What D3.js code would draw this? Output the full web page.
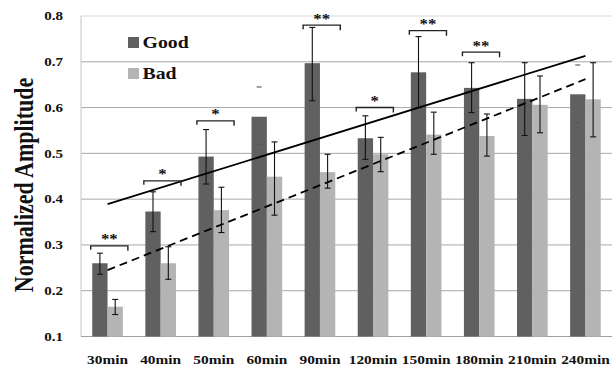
<!DOCTYPE html>
<html><head><meta charset="utf-8">
<script src="https://cdn.jsdelivr.net/npm/d3@7"></script>
<style>
html,body{margin:0;padding:0;background:#fff;}
svg{display:block;}
text{font-family:"Liberation Serif","Times New Roman",serif;font-weight:bold;fill:#111;}
</style></head>
<body>
<svg id="chart" width="614" height="369"></svg>
<script>
const categories = ["30min","40min","50min","60min","90min","120min","150min","180min","210min","240min"];
const goodValues = [0.26, 0.373, 0.493, 0.58, 0.697, 0.533, 0.677, 0.643, 0.619, 0.629];
const goodLow    = [0.236, 0.329, 0.433, 0.52, 0.615, 0.487, 0.600, 0.589, 0.539, 0.567];
const goodHigh   = [0.282, 0.416, 0.552, 0.645, 0.775, 0.582, 0.755, 0.698, 0.698, 0.693];
const goodCapsOnly = [false,false,false,true,false,false,false,false,false,true];
const badValues  = [0.165, 0.26, 0.376, 0.449, 0.459, 0.498, 0.541, 0.538, 0.606, 0.618];
const badLow     = [0.148, 0.225, 0.327, 0.365, 0.424, 0.46, 0.498, 0.494, 0.545, 0.536];
const badHigh    = [0.181, 0.296, 0.426, 0.525, 0.498, 0.535, 0.59, 0.586, 0.669, 0.698];
const yTicks = [0.1,0.2,0.3,0.4,0.5,0.6,0.7,0.8];
const seriesNames = ["Good","Bad"];
// significance brackets: category, bracket level, label
const sigCats   = ["30min","40min","50min","90min","120min","150min","180min"];
const sigLevels = [0.298, 0.440, 0.571, 0.780, 0.600, 0.768, 0.721];
const sigLabels = ["**","*","*","**","*","**","**"];
// linear trend lines (values at first and last category)
const trendGood = [0.389, 0.713];
const trendBad  = [0.245, 0.662];

const colors = {Good:"#606060", Bad:"#b4b4b4"};
const svg = d3.select("#chart");
const L = 81, R = 612, T = 16, B = 336.5;
const SX = 1.2; // horizontal stretch of the original picture

const x = d3.scaleBand().domain(categories).range([L,R]).paddingInner(0.423).paddingOuter(0.2115);
const xs = d3.scaleBand().domain(seriesNames).range([0, x.bandwidth()]);
const y = d3.scaleLinear().domain([0.1,0.8]).range([B,T]);
const cx = c => x(c) + x.bandwidth()/2;

// gridlines
svg.append("g").selectAll("line").data(yTicks.filter(t => t>0.1 && t<0.8)).join("line")
  .attr("x1",L).attr("x2",R).attr("y1",d=>y(d)).attr("y2",d=>y(d))
  .attr("stroke","#a8a8a8").attr("stroke-width",1);
svg.append("line").attr("x1",L).attr("x2",R).attr("y1",y(0.8)).attr("y2",y(0.8)).attr("stroke","#d6d6d6").attr("stroke-width",1.2);
svg.append("line").attr("x1",L).attr("x2",L).attr("y1",y(0.8)).attr("y2",y(0.1)).attr("stroke","#cfcfcf").attr("stroke-width",1.2);
svg.append("line").attr("x1",L).attr("x2",R).attr("y1",y(0.1)).attr("y2",y(0.1)).attr("stroke","#a0a0a0").attr("stroke-width",1.2);

// bars
const series = [
  {name:"Good", v:goodValues, lo:goodLow, hi:goodHigh, capsOnly:goodCapsOnly},
  {name:"Bad",  v:badValues,  lo:badLow,  hi:badHigh,  capsOnly:categories.map(()=>false)}
];
series.forEach(s => {
  const g = svg.append("g");
  g.selectAll("rect").data(categories).join("rect")
    .attr("x", (c)=>x(c)+xs(s.name)).attr("width", xs.bandwidth())
    .attr("y", (c,i)=>y(s.v[i])).attr("height",(c,i)=>y(0.1)-y(s.v[i]))
    .attr("fill", colors[s.name]);
});

// error bars
series.forEach(s => {
  const g = svg.append("g");
  categories.forEach((c,i) => {
    const ex = x(c)+xs(s.name)+xs.bandwidth()/2;
    const col = s.capsOnly[i] ? "#555" : "#111";
    if(!s.capsOnly[i]) g.append("line").attr("x1",ex).attr("x2",ex).attr("y1",y(s.hi[i])).attr("y2",y(s.lo[i])).attr("stroke","#111").attr("stroke-width",1.1);
    const cw = s.capsOnly[i] ? 2.5 : 3;
    [s.hi[i], s.lo[i]].forEach(v => g.append("line").attr("x1",ex-cw).attr("x2",ex+cw).attr("y1",y(v)).attr("y2",y(v)).attr("stroke",col).attr("stroke-width",1.1));
  });
});

// trend lines
const c0 = cx(categories[0]), c1 = cx(categories[categories.length-1]);
svg.append("line").attr("x1",c0).attr("x2",c1).attr("y1",y(trendGood[0])).attr("y2",y(trendGood[1]))
  .attr("stroke","#000").attr("stroke-width",1.8);
svg.append("line").attr("x1",c0).attr("x2",c1).attr("y1",y(trendBad[0])).attr("y2",y(trendBad[1]))
  .attr("stroke","#000").attr("stroke-width",1.8).attr("stroke-dasharray","8,5");

// significance brackets
sigCats.forEach((c,i) => {
  const x0 = x(c) - 1.5, x1 = x(c) + x.bandwidth() + 5, yy = y(sigLevels[i]);
  svg.append("path").attr("d", `M${x0},${yy+4}V${yy}H${x1}V${yy+5}`)
    .attr("fill","none").attr("stroke","#222").attr("stroke-width",1.4);
  svg.append("text").attr("transform",`translate(${(x0+x1)/2},${yy-1.5}) scale(${SX},1)`)
    .attr("text-anchor","middle").attr("font-size",14).text(sigLabels[i]);
});

// y tick labels
svg.append("g").selectAll("text").data(yTicks).join("text")
  .attr("transform", d=>`translate(63,${y(d)+4.3}) scale(${SX},1)`)
  .attr("text-anchor","end").attr("font-size",12.5).text(d=>d.toFixed(1));

// x labels
svg.append("g").selectAll("text").data(categories).join("text")
  .attr("transform", c=>`translate(${cx(c)},364) scale(${SX},1)`)
  .attr("text-anchor","middle").attr("font-size",12.8).text(c=>c);

// y title
svg.append("text").attr("transform",`translate(33,185) scale(${SX},1) rotate(-90)`)
  .attr("text-anchor","middle").attr("font-size",22).text("Normalized Amplitude");

// legend
seriesNames.forEach((n,i) => {
  const ly = 37 + i*31;
  svg.append("rect").attr("x",128).attr("y",ly).attr("width",11).attr("height",11).attr("fill",colors[n]);
  svg.append("text").attr("transform",`translate(142.5,${ly+11.3}) scale(${SX},1)`)
    .attr("font-size",16.5).text(n);
});
</script>
</body></html>
